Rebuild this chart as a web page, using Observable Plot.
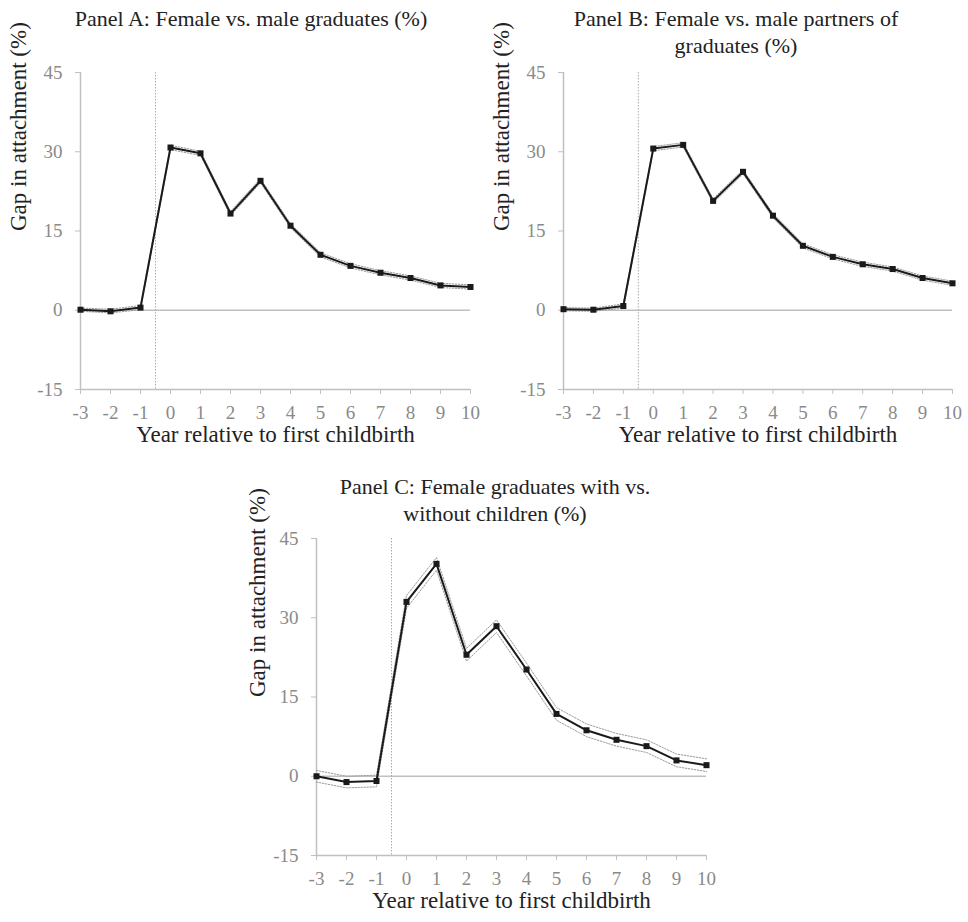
<!DOCTYPE html>
<html>
<head>
<meta charset="utf-8">
<script src="https://cdn.jsdelivr.net/npm/d3@7"></script>
<script src="https://cdn.jsdelivr.net/npm/@observablehq/plot@0.6"></script>
<style>
  html, body { margin: 0; padding: 0; background: #fff; }
  #root { position: relative; width: 968px; height: 922px; overflow: hidden; font-family: "Liberation Serif", "Times New Roman", serif; }
  .title { position: absolute; transform: translateX(-50%); text-align: center; font-size: 22px; color: #222; line-height: 27px; white-space: nowrap; z-index: 2; }
</style>
</head>
<body>
<div id="root"></div>
<script>
const years = [-3, -2, -1, 0, 1, 2, 3, 4, 5, 6, 7, 8, 9, 10];
const yTicks = [-15, 0, 15, 30, 45];
const xTicks = [-3, -2, -1, 0, 1, 2, 3, 4, 5, 6, 7, 8, 9, 10];

// Panel A: Female vs. male graduates
const aEst = [0.1, -0.2, 0.5, 30.8, 29.7, 18.3, 24.5, 16.0, 10.5, 8.4, 7.1, 6.1, 4.7, 4.4];
const aLo  = [-0.2, -0.5, 0.1, 30.4, 29.3, 17.9, 24.1, 15.6, 10.1, 8.0, 6.7, 5.7, 4.3, 4.0];
const aHi  = [0.4, 0.2, 0.9, 31.2, 30.1, 18.7, 24.9, 16.4, 10.9, 8.8, 7.5, 6.5, 5.1, 4.8];

// Panel B: Female vs. male partners of graduates
const bEst = [0.2, 0.1, 0.8, 30.6, 31.3, 20.7, 26.2, 17.9, 12.2, 10.1, 8.7, 7.8, 6.1, 5.1];
const bLo  = [-0.1, -0.2, 0.4, 30.2, 30.9, 20.3, 25.8, 17.5, 11.8, 9.7, 8.3, 7.4, 5.7, 4.7];
const bHi  = [0.5, 0.4, 1.2, 31.0, 31.7, 21.1, 26.6, 18.3, 12.6, 10.5, 9.1, 8.2, 6.5, 5.5];

// Panel C: Female graduates with vs. without children
const cEst = [0.0, -1.1, -0.9, 33.0, 40.2, 23.0, 28.4, 20.2, 11.8, 8.7, 6.9, 5.7, 3.0, 2.1];
const cLo  = [-1.1, -2.2, -2.0, 31.8, 39.0, 21.8, 27.2, 19.0, 10.6, 7.5, 5.7, 4.5, 1.8, 0.9];
const cHi  = [1.1, 0.0, 0.2, 34.2, 41.4, 24.2, 29.6, 21.4, 13.0, 9.9, 8.1, 6.9, 4.2, 3.3];

const panels = [
  { title: ["Panel A: Female vs. male graduates (%)"], tx: 251, ty: 5, left: 0, top: 50, height: 410, mr: 14, mt: 22, ylabDx: -62, est: aEst, lo: aLo, hi: aHi },
  { title: ["Panel B: Female vs. male partners of", "graduates (%)"], tx: 736, ty: 5, left: 483, top: 50, height: 410, mr: 15, mt: 22, ylabDx: -62, est: bEst, lo: bLo, hi: bHi },
  { title: ["Panel C: Female graduates with vs.", "without children (%)"], tx: 495, ty: 473, left: 236, top: 526, height: 396, mr: 14, mt: 12, ylabDx: -59, est: cEst, lo: cLo, hi: cHi }
];

const root = document.getElementById("root");
const axisGray = "#c0c0c0";
const tickText = "#8a8a8a";
const fmt = d => String(d);

for (const p of panels) {
  const rows = years.map((yr, i) => ({ year: yr, est: p.est[i], lo: p.lo[i], hi: p.hi[i] }));
  const mBottom = p.height - p.mt - 317;

  const chart = Plot.plot({
    width: 484,
    height: p.height,
    marginLeft: 80,
    marginRight: p.mr,
    marginTop: p.mt,
    marginBottom: mBottom,
    style: { fontFamily: "'Liberation Serif', 'Times New Roman', serif", fontSize: "19px", background: "transparent", overflow: "visible" },
    x: { domain: [-3, 10], axis: null },
    y: { domain: [-15, 45], axis: null },
    marks: [
      Plot.ruleY([0], { stroke: axisGray, strokeWidth: 1.5 }),
      Plot.ruleY([-15], { stroke: axisGray, strokeWidth: 1.5 }),
      Plot.ruleX([-3], { stroke: axisGray, strokeWidth: 1.5 }),
      Plot.ruleX([-0.5], { stroke: "#aaa", strokeWidth: 1, strokeDasharray: "1.5,1.5" }),
      Plot.axisY(yTicks, { anchor: "left", tickSize: 5, tickPadding: 13, stroke: axisGray, fill: tickText, fontSize: 19, label: null, tickFormat: fmt }),
      Plot.axisX(xTicks, { anchor: "bottom", tickSize: 5, tickPadding: 11, stroke: axisGray, fill: tickText, fontSize: 19, label: null, tickFormat: fmt }),
      Plot.line(rows, { x: "year", y: "lo", stroke: "#9a9a9a", strokeWidth: 1, strokeDasharray: "1.5,1.5" }),
      Plot.line(rows, { x: "year", y: "hi", stroke: "#9a9a9a", strokeWidth: 1, strokeDasharray: "1.5,1.5" }),
      Plot.line(rows, { x: "year", y: "est", stroke: "#1a1a1a", strokeWidth: 2 }),
      Plot.dot(rows, { x: "year", y: "est", symbol: "square", r: 3.4, fill: "#1a1a1a", stroke: "none" }),
      Plot.text(["Gap in attachment (%)"], { frameAnchor: "left", rotate: -90, dx: p.ylabDx, fontSize: 23, fill: "#222" }),
      Plot.text(["Year relative to first childbirth"], { frameAnchor: "bottom", dy: 52, fontSize: 23, fill: "#222" })
    ]
  });
  chart.style.position = "absolute";
  chart.style.left = p.left + "px";
  chart.style.top = p.top + "px";
  root.appendChild(chart);
}

for (const p of panels) {
  const t = document.createElement("div");
  t.className = "title";
  t.style.left = p.tx + "px";
  t.style.top = p.ty + "px";
  t.innerHTML = p.title.join("<br>");
  root.appendChild(t);
}
</script>
</body>
</html>
